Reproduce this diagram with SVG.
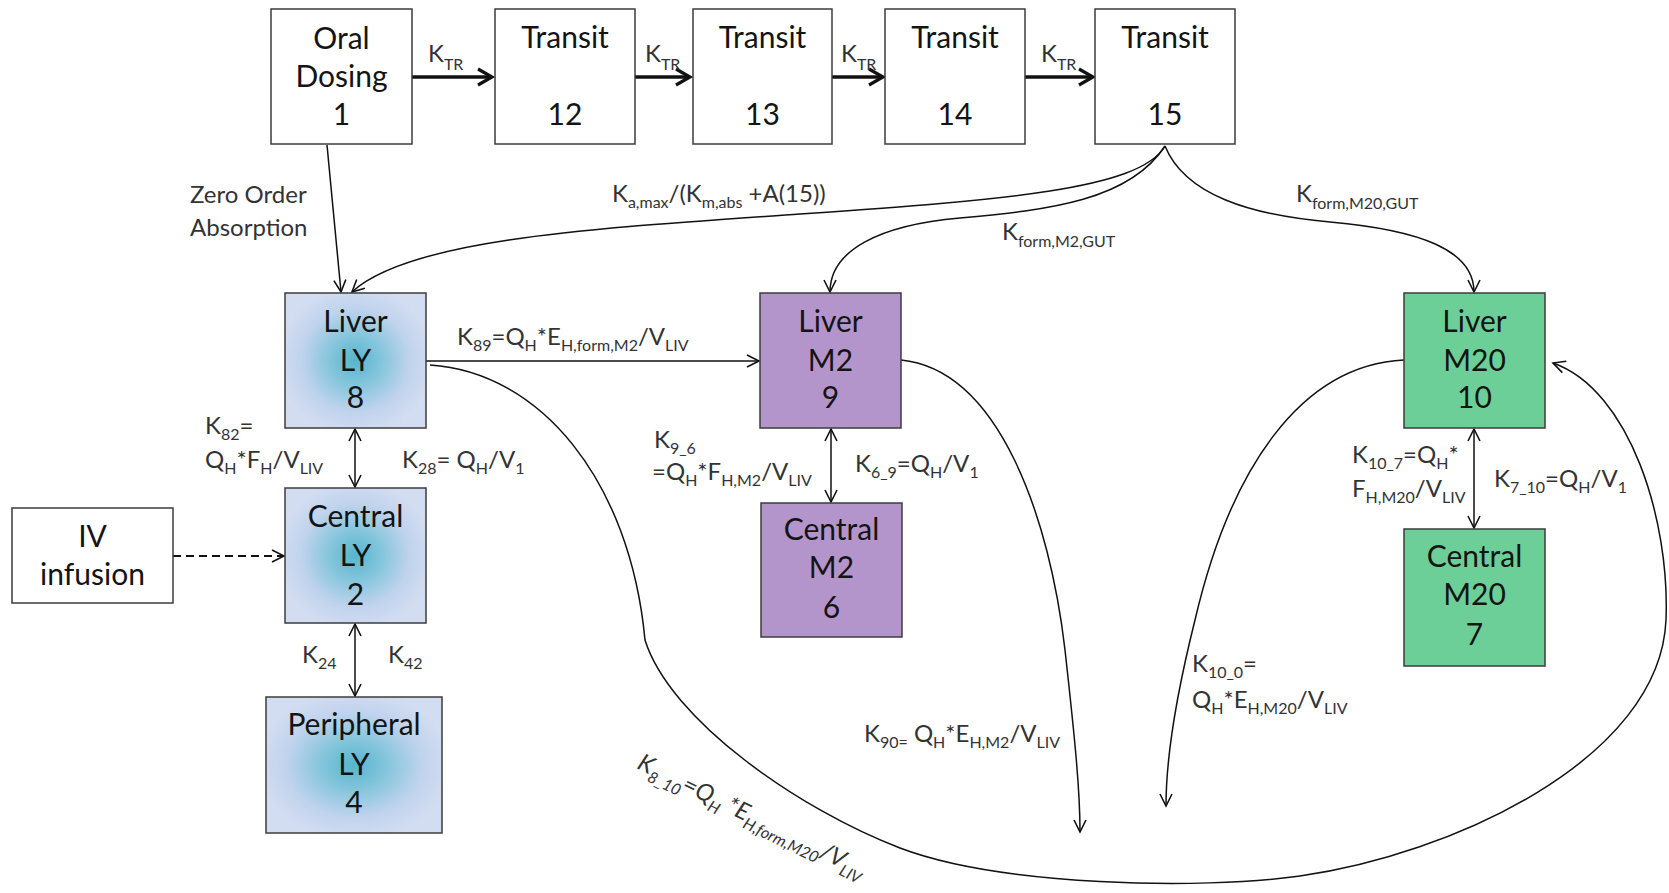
<svg xmlns="http://www.w3.org/2000/svg" width="1669" height="893" viewBox="0 0 1669 893">
<style>
.box{stroke:#3c3c3c;stroke-width:1.5}
.wb{fill:#fff}
.pu{fill:#b394cb}
.gr{fill:#6dcf98}
.nt{font-family:Lato,'Liberation Sans',sans-serif;font-size:30px;fill:#141414;text-anchor:middle}
.lb{font-family:Lato,'Liberation Sans',sans-serif;font-size:24px;fill:#333}
.sb{font-size:16px}
.ln{fill:none;stroke:#111;stroke-width:1.5}
.tk{fill:none;stroke:#111;stroke-width:3.5}
</style>
<defs>
<radialGradient id="ly" cx="50%" cy="50%" r="55%">
<stop offset="0" stop-color="#56b5ce"/>
<stop offset="0.35" stop-color="#86c6dc"/>
<stop offset="0.7" stop-color="#c0d3ed"/>
<stop offset="1" stop-color="#d3ddf1"/>
</radialGradient>
<marker id="a" markerUnits="userSpaceOnUse" markerWidth="16" markerHeight="16" refX="13" refY="8" orient="auto-start-reverse" viewBox="0 0 16 16">
<path d="M1,2 L13,8 L1,14" fill="none" stroke="#111" stroke-width="1.6"/>
</marker>
<marker id="t" markerUnits="userSpaceOnUse" markerWidth="22" markerHeight="22" refX="17" refY="11" orient="auto" viewBox="0 0 22 22">
<path d="M3,3 L17,11 L3,19" fill="none" stroke="#111" stroke-width="3.2"/>
</marker>
</defs>

<g id="connectors">
<path class="tk" d="M412,77 H492" marker-end="url(#t)"/>
<path class="tk" d="M635,77 H690" marker-end="url(#t)"/>
<path class="tk" d="M832,77 H883" marker-end="url(#t)"/>
<path class="tk" d="M1025,77 H1093" marker-end="url(#t)"/>
<path class="ln" d="M327,145 L341,292" marker-end="url(#a)"/>
<path class="ln" d="M1165,146 C1140,190 1000,200 800,214 C600,228 410,238 352,292" marker-end="url(#a)"/>
<path class="ln" d="M1165,146 C1130,200 1050,210 960,218 C880,225 830,250 830,292" marker-end="url(#a)"/>
<path class="ln" d="M1165,146 C1185,195 1250,215 1330,222 C1420,230 1474,250 1474,292" marker-end="url(#a)"/>
<path class="ln" d="M426,361 H759" marker-end="url(#a)"/>
<path class="ln" d="M355,429 V487" marker-start="url(#a)" marker-end="url(#a)"/>
<path class="ln" d="M355,624 V696" marker-start="url(#a)" marker-end="url(#a)"/>
<path class="ln" d="M831,429 V502" marker-start="url(#a)" marker-end="url(#a)"/>
<path class="ln" d="M1474,429 V528" marker-start="url(#a)" marker-end="url(#a)"/>
<path d="M173,556 H284" fill="none" stroke="#111" stroke-width="2" stroke-dasharray="8 5" marker-end="url(#a)"/>
<path class="ln" d="M901,360 C1000,370 1050,520 1065,650 C1075,740 1080,790 1080,832" marker-end="url(#a)"/>
<path class="ln" d="M1404,360 C1300,365 1230,470 1195,620 C1175,700 1166,760 1166,806" marker-end="url(#a)"/>
<path class="ln" d="M430,365 C540,372 630,480 645,640 C670,720 800,810 900,848 C1000,886 1200,890 1300,876 C1450,855 1660,760 1666,620 C1670,520 1630,390 1553,363" marker-end="url(#a)"/>
</g>

<g id="labels">
<text class="lb" x="428" y="62" font-size="28">K<tspan class="sb" font-size="20" dy="8">TR</tspan></text>
<text class="lb" x="645" y="62" font-size="28">K<tspan class="sb" font-size="20" dy="8">TR</tspan></text>
<text class="lb" x="841" y="62" font-size="28">K<tspan class="sb" font-size="20" dy="8">TR</tspan></text>
<text class="lb" x="1041" y="62" font-size="28">K<tspan class="sb" font-size="20" dy="8">TR</tspan></text>
<text class="lb" x="190" y="203" font-size="26">Zero Order</text>
<text class="lb" x="190" y="236" font-size="26">Absorption</text>
<text class="lb" x="612" y="202">K<tspan class="sb" dy="6">a,max</tspan><tspan dy="-6">/(K</tspan><tspan class="sb" dy="6">m,abs</tspan><tspan dy="-6"> +A(15))</tspan></text>
<text class="lb" x="1002" y="240">K<tspan class="sb" dy="7">form,M2,GUT</tspan></text>
<text class="lb" x="1296" y="202">K<tspan class="sb" dy="7">form,M20,GUT</tspan></text>
<text class="lb" x="457" y="345">K<tspan class="sb" dy="6">89</tspan><tspan dy="-6">=Q</tspan><tspan class="sb" dy="6">H</tspan><tspan dy="-6">*E</tspan><tspan class="sb" dy="6">H,form,M2</tspan><tspan dy="-6">/V</tspan><tspan class="sb" dy="6">LIV</tspan></text>
<text class="lb" x="205" y="434">K<tspan class="sb" dy="6">82</tspan><tspan dy="-6">=</tspan></text>
<text class="lb" x="205" y="468">Q<tspan class="sb" dy="6">H</tspan><tspan dy="-6">*F</tspan><tspan class="sb" dy="6">H</tspan><tspan dy="-6">/V</tspan><tspan class="sb" dy="6">LIV</tspan></text>
<text class="lb" x="402" y="468">K<tspan class="sb" dy="6">28</tspan><tspan dy="-6">= Q</tspan><tspan class="sb" dy="6">H</tspan><tspan dy="-6">/V</tspan><tspan class="sb" dy="6">1</tspan></text>
<text class="lb" x="302" y="663">K<tspan class="sb" dy="6">24</tspan></text>
<text class="lb" x="388" y="663">K<tspan class="sb" dy="6">42</tspan></text>
<text class="lb" x="654" y="448">K<tspan class="sb" dy="6">9_6</tspan></text>
<text class="lb" x="652" y="480">=Q<tspan class="sb" dy="6">H</tspan><tspan dy="-6">*F</tspan><tspan class="sb" dy="6">H,M2</tspan><tspan dy="-6">/V</tspan><tspan class="sb" dy="6">LIV</tspan></text>
<text class="lb" x="855" y="472">K<tspan class="sb" dy="6">6_9</tspan><tspan dy="-6">=Q</tspan><tspan class="sb" dy="6">H</tspan><tspan dy="-6">/V</tspan><tspan class="sb" dy="6">1</tspan></text>
<text class="lb" x="1352" y="463">K<tspan class="sb" dy="6">10_7</tspan><tspan dy="-6">=Q</tspan><tspan class="sb" dy="6">H</tspan><tspan dy="-6">*</tspan></text>
<text class="lb" x="1352" y="497">F<tspan class="sb" dy="6">H,M20</tspan><tspan dy="-6">/V</tspan><tspan class="sb" dy="6">LIV</tspan></text>
<text class="lb" x="1494" y="487">K<tspan class="sb" dy="6">7_10</tspan><tspan dy="-6">=Q</tspan><tspan class="sb" dy="6">H</tspan><tspan dy="-6">/V</tspan><tspan class="sb" dy="6">1</tspan></text>
<text class="lb" x="864" y="742">K<tspan class="sb" dy="6">90=</tspan><tspan dy="-6"> Q</tspan><tspan class="sb" dy="6">H</tspan><tspan dy="-6">*E</tspan><tspan class="sb" dy="6">H,M2</tspan><tspan dy="-6">/V</tspan><tspan class="sb" dy="6">LIV</tspan></text>
<text class="lb" x="1192" y="672">K<tspan class="sb" dy="6">10_0</tspan><tspan dy="-6">=</tspan></text>
<text class="lb" x="1192" y="708">Q<tspan class="sb" dy="6">H</tspan><tspan dy="-6">*E</tspan><tspan class="sb" dy="6">H,M20</tspan><tspan dy="-6">/V</tspan><tspan class="sb" dy="6">LIV</tspan></text>
<text class="lb" font-style="italic" font-size="26" transform="translate(636,768) rotate(26)">K<tspan class="sb" font-size="18" dy="7">8_10</tspan><tspan dy="-7">=Q</tspan><tspan class="sb" font-size="18" dy="7">H</tspan><tspan dy="-7"> *E</tspan><tspan class="sb" font-size="18" dy="7">H,form,M20</tspan><tspan dy="-7">/V</tspan><tspan class="sb" font-size="18" dy="7">LIV</tspan></text>
</g>

<g id="oral"><rect class="box wb" x="271" y="9" width="141" height="135"/><text class="nt" x="341.5" y="49">Oral</text><text class="nt" x="341.5" y="87">Dosing</text><text class="nt" x="341.5" y="125">1</text></g>
<g id="transit12"><rect class="box wb" x="495" y="9" width="140" height="135"/><text class="nt" x="565" y="48">Transit</text><text class="nt" x="565" y="125">12</text></g>
<g id="transit13"><rect class="box wb" x="693" y="9" width="139" height="135"/><text class="nt" x="762.5" y="48">Transit</text><text class="nt" x="762.5" y="125">13</text></g>
<g id="transit14"><rect class="box wb" x="885" y="9" width="140" height="135"/><text class="nt" x="955" y="48">Transit</text><text class="nt" x="955" y="125">14</text></g>
<g id="transit15"><rect class="box wb" x="1095" y="9" width="140" height="135"/><text class="nt" x="1165" y="48">Transit</text><text class="nt" x="1165" y="125">15</text></g>
<g id="liverLY"><rect class="box" fill="url(#ly)" x="285" y="293" width="141" height="135"/><text class="nt" x="355.5" y="332">Liver</text><text class="nt" x="355.5" y="371">LY</text><text class="nt" x="355.5" y="408">8</text></g>
<g id="centralLY"><rect class="box" fill="url(#ly)" x="285" y="488" width="141" height="135"/><text class="nt" x="355.5" y="527">Central</text><text class="nt" x="355.5" y="566">LY</text><text class="nt" x="355.5" y="605">2</text></g>
<g id="peripheralLY"><rect class="box" fill="url(#ly)" x="266" y="697" width="176" height="136"/><text class="nt" x="354" y="735">Peripheral</text><text class="nt" x="354" y="775">LY</text><text class="nt" x="354" y="813">4</text></g>
<g id="ivinfusion"><rect class="box wb" x="12" y="508" width="161" height="95"/><text class="nt" x="92.5" y="547">IV</text><text class="nt" x="92.5" y="585">infusion</text></g>
<g id="liverM2"><rect class="box pu" x="760" y="293" width="141" height="135"/><text class="nt" x="830.5" y="332">Liver</text><text class="nt" x="830.5" y="371">M2</text><text class="nt" x="830.5" y="408">9</text></g>
<g id="centralM2"><rect class="box pu" x="761" y="503" width="141" height="134"/><text class="nt" x="831.5" y="540">Central</text><text class="nt" x="831.5" y="578">M2</text><text class="nt" x="831.5" y="618">6</text></g>
<g id="liverM20"><rect class="box gr" x="1404" y="293" width="141" height="135"/><text class="nt" x="1474.5" y="332">Liver</text><text class="nt" x="1474.5" y="371">M20</text><text class="nt" x="1474.5" y="408">10</text></g>
<g id="centralM20"><rect class="box gr" x="1404" y="529" width="141" height="137"/><text class="nt" x="1474.5" y="567">Central</text><text class="nt" x="1474.5" y="605">M20</text><text class="nt" x="1474.5" y="645">7</text></g>
</svg>
